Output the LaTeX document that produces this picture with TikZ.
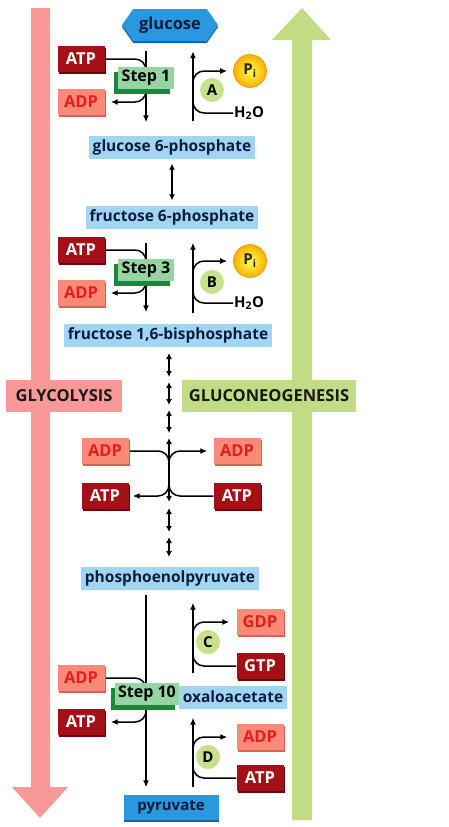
\documentclass[tikz,border=0pt]{standalone}
\usepackage{fontspec}
\setmainfont{Open Sans}
\usetikzlibrary{arrows.meta,shapes.symbols,shadows}
\pgfdeclarelayer{back}
\pgfdeclarelayer{lines}
\pgfsetlayers{back,lines,main}

\definecolor{glyred}{RGB}{250,152,152}
\definecolor{neogreen}{RGB}{194,220,134}
\definecolor{metblue}{RGB}{160,214,244}
\definecolor{hexblue}{RGB}{42,152,222}
\definecolor{deepblue}{RGB}{22,100,170}
\definecolor{navy}{RGB}{16,28,60}
\definecolor{atpred}{RGB}{165,15,22}
\definecolor{atpedge}{RGB}{105,5,10}
\definecolor{adpfill}{RGB}{250,138,120}
\definecolor{adpedge}{RGB}{214,98,84}
\definecolor{adptext}{RGB}{228,30,28}
\definecolor{stepgreen}{RGB}{150,212,162}
\definecolor{stepdark}{RGB}{22,138,58}
\definecolor{enzgreen}{RGB}{200,225,140}
\definecolor{pigold}{RGB}{246,176,0}

\newcommand{\metfont}{\bfseries\fontsize{15.5}{18}\selectfont}
\newcommand{\hexfont}{\bfseries\fontsize{15}{17}\selectfont}
\newcommand{\engfont}{\bfseries\fontsize{16.5}{19}\selectfont}
\newcommand{\stepfont}{\bfseries\fontsize{16}{18}\selectfont}
\newcommand{\smallfont}{\bfseries\fontsize{15}{17}\selectfont}
\newcommand{\bigfont}{\bfseries\fontsize{16.5}{19}\selectfont}

\tikzset{
  metab/.style={fill=metblue, text=navy, font=\metfont, minimum height=23pt, inner xsep=4pt},
  hexbox/.style={signal, signal to=east and west, signal pointer angle=110, fill=hexblue, text=navy,
    font=\hexfont, minimum width=96pt, minimum height=32pt,
    general shadow={shadow xshift=0pt, shadow yshift=-2pt, fill=deepblue}},
  pyrbox/.style={fill=hexblue, text=navy, font=\hexfont, minimum width=95pt, minimum height=25pt,
    general shadow={shadow xshift=0pt, shadow yshift=-2pt, fill=deepblue}},
  energy/.style={minimum width=47pt, minimum height=26pt, font=\engfont, inner sep=0pt},
  atpbox/.style={energy, fill=atpred, text=white,
    general shadow={shadow xshift=1pt, shadow yshift=-1.5pt, fill=atpedge}},
  adpbox/.style={energy, fill=adpfill, text=adptext,
    general shadow={shadow xshift=1pt, shadow yshift=-1.5pt, fill=adpedge}},
  stepbox/.style={fill=stepgreen, text=black, font=\stepfont, minimum height=20pt, inner xsep=3.5pt,
    general shadow={shadow xshift=-4pt, shadow yshift=-5pt, fill=stepdark}},
  enzyme/.style={circle, fill=enzgreen, minimum size=24pt, inner sep=0pt, font=\smallfont},
  phos/.style={circle, inner color=yellow!70!white, outer color=pigold, draw=orange!70!pigold,
    line width=0.6pt, minimum size=33pt, inner sep=0pt, font=\smallfont, text=black!85},
  water/.style={anchor=west, font=\smallfont, inner sep=1pt},
  pathlabel/.style={minimum height=32pt, font=\bigfont, text=black!90},
  link/.style={line width=1.5pt, rounded corners=11pt},
  flow/.style={link, -{Latex[length=7pt,width=6pt]}},
  dflow/.style={line width=1.4pt, {Latex[length=6pt,width=6pt]}-{Latex[length=6pt,width=6pt]}}
}

\begin{document}
\begin{tikzpicture}[x=1pt,y=-1pt]
\useasboundingbox (0,0) rectangle (449,827);

% big arrows and their labels
\begin{pgfonlayer}{back}
\fill[glyred] (31,8) -- (50,8) -- (50,787) -- (68,787) -- (40,818) -- (12,787) -- (31,787) -- cycle;
\fill[neogreen] (292,820) -- (292,40) -- (272,40) -- (302,8) -- (331,40) -- (312,40) -- (312,820) -- cycle;
\node[pathlabel, fill=glyred, minimum width=116pt] (glyco) at (64,396) {GLYCOLYSIS};
\node[pathlabel, fill=neogreen, minimum width=174pt] (gneo) at (269,396) {GLUCONEOGENESIS};
\end{pgfonlayer}

% metabolites
\node[hexbox, font=\bfseries\fontsize{16.5}{19}\selectfont] (glucose) at (170,25) {glucose};
\node[metab] (g6p) at (172,147) {glucose 6-phosphate};
\node[metab] (f6p) at (172,217) {fructose 6-phosphate};
\node[metab] (f16bp) at (168,335) {fructose 1,6-bisphosphate};
\node[metab] (pep) at (170,578) {phosphoenolpyruvate};
\node[metab] (oaa) at (233,697) {oxaloacetate};
\node[pyrbox] (pyruvate) at (171,807) {pyruvate};

% step 1 and A
\node[atpbox] (atp1) at (81,59) {ATP};
\node[adpbox] (adp1) at (81,102) {ADP};
\node[stepbox] (step1) at (146,78) {Step 1};
\node[phos] (pi1) at (250,71) {P\textsubscript{i}};
\node[enzyme] (enzA) at (212,90) {A};
\node[water] (h2o1) at (233,113) {H\textsubscript{2}O};

% step 3 and B
\node[atpbox] (atp3) at (81,250) {ATP};
\node[adpbox] (adp3) at (81,293) {ADP};
\node[stepbox] (step3) at (146,270) {Step 3};
\node[phos] (pi3) at (250,261) {P\textsubscript{i}};
\node[enzyme] (enzB) at (212,282) {B};
\node[water] (h2o3) at (233,303) {H\textsubscript{2}O};

% middle exchange
\node[adpbox] (adpl) at (105,451) {ADP};
\node[atpbox] (atpl) at (105,496) {ATP};
\node[adpbox] (adpr) at (237,451) {ADP};
\node[atpbox] (atpr) at (237,496) {ATP};

% step 10, C and D
\node[adpbox] (adp10) at (81,678) {ADP};
\node[atpbox] (atp10) at (81,722) {ATP};
\node[stepbox] (step10) at (147,694) {Step 10};
\node[adpbox] (gdp) at (260,622) {GDP};
\node[enzyme] (enzC) at (208,642) {C};
\node[atpbox] (gtp) at (260,666) {GTP};
\node[adpbox] (adpd) at (260,737) {ADP};
\node[enzyme] (enzD) at (208,757) {D};
\node[atpbox] (atpd) at (260,778) {ATP};

\begin{pgfonlayer}{lines}
% step 1 / A
\coordinate (s1in) at (146,72);
\coordinate (s1out) at (146,90);
\coordinate (a1out) at (193,85);
\coordinate (a1in) at (193,98);
\draw[flow, shorten <=10pt, shorten >=13pt] (glucose.south -| s1in) -- (g6p.north -| s1in);
\draw[link] (atp1.east) -| (s1in);
\draw[flow, shorten >=6pt] (s1out) |- (adp1.east);
\draw[flow, shorten <=14pt, shorten >=10pt] (g6p.north -| a1out) -- (glucose.south -| a1out);
\draw[flow, shorten >=6pt] (a1out) |- (pi1.west);
\draw[link] (h2o1.west) -| (a1in);

\draw[dflow] ([yshift=-5pt]g6p.south) -- ([yshift=5pt]f6p.north);

% step 3 / B
\coordinate (s3in) at (146,263);
\coordinate (s3out) at (146,281);
\coordinate (b3out) at (193,276);
\coordinate (b3in) at (193,289);
\draw[flow, shorten <=14pt, shorten >=11pt] (f6p.south -| s3in) -- (f16bp.north -| s3in);
\draw[link] (atp3.east) -| (s3in);
\draw[flow, shorten >=6pt] (s3out) |- (adp3.east);
\draw[flow, shorten <=10pt, shorten >=14pt] (f16bp.north -| b3out) -- (f6p.south -| b3out);
\draw[flow, shorten >=6pt] (b3out) |- (pi3.west);
\draw[link] (h2o3.west) -| (b3in);

% reversible steps between fructose 1,6-bisphosphate and phosphoenolpyruvate
\foreach \a/\b [count=\i] in {353/377, 382/405, 410/433, 438/502, 508/532, 537/557} {
  \coordinate (d\i a) at (169,\a);
  \coordinate (d\i b) at (169,\b);
  \draw[dflow] (d\i a) -- (d\i b);
}
\coordinate (mjt) at (169,468);
\coordinate (mjb) at (169,472);
\draw[link] (adpl.east) -| (mjt);
\draw[flow, shorten >=4pt] (mjb) |- (atpl.east);
\draw[link] (atpr.west) -| (mjb);
\draw[flow, shorten >=6pt] (mjt) |- (adpr.west);

% step 10
\coordinate (s10in) at (146,692);
\coordinate (s10out) at (146,706);
\draw[flow, shorten <=5pt, shorten >=7pt] (pep.south -| s10in) -- (pyruvate.north -| s10in);
\draw[link] (adp10.east) -| (s10in);
\draw[flow, shorten >=6pt] (s10out) |- (atp10.east);

% C
\coordinate (c1out) at (193,636);
\coordinate (c1in) at (193,652);
\draw[flow, shorten <=12pt, shorten >=13pt] (oaa.north -| c1out) -- (pep.south -| c1out);
\draw[flow, shorten >=7pt] (c1out) |- (gdp.west);
\draw[link] (gtp.west) -| (c1in);

% D
\coordinate (d1out) at (193,750);
\coordinate (d1in) at (193,766);
\draw[flow, shorten <=7pt, shorten >=9pt] (pyruvate.north -| d1out) -- (oaa.south -| d1out);
\draw[flow, shorten >=9pt] (d1out) |- (adpd.west);
\draw[link] (atpd.west) -| (d1in);
\end{pgfonlayer}
\end{tikzpicture}
\end{document}
